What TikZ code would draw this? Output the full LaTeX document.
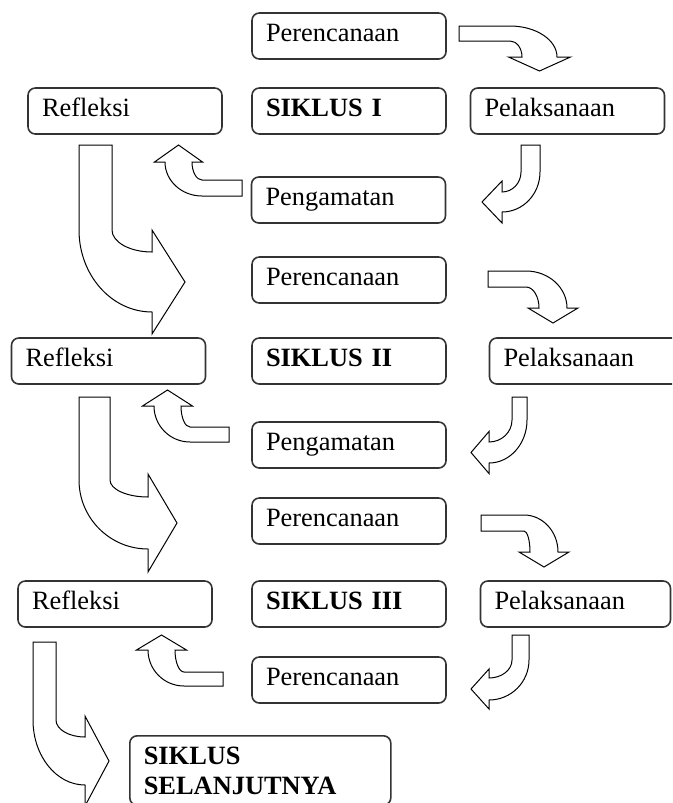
\documentclass[tikz,border=0pt]{standalone}
\usepackage{fontspec}
\setmainfont{Liberation Serif}
\newcommand{\hbend}[9]{%
  \draw[blockarrow] (#1,#2) -- (#4,#2)
    .. controls ({#4+0.552*(#6-#4)},#2) and (#6,{#5+0.552*(#2-#5)}) .. (#6,#5)
    -- ({(#6+#7)/2+(#8)},#5) -- ({(#6+#7)/2},#9) -- ({(#6+#7)/2-(#8)},#5) -- (#7,#5)
    .. controls (#7,{#5+0.552*(#3-#5)}) and ({#4+0.552*(#7-#4)},#3) .. (#4,#3)
    -- (#1,#3) -- cycle;}
\newcommand{\vbend}[9]{%
  \draw[blockarrow] (#1,#3) -- (#2,#3) -- (#2,#5)
    .. controls (#2,{#5+0.552*(#6-#5)}) and ({#4+0.552*(#2-#4)},#6) .. (#4,#6)
    -- (#4,{(#6+#7)/2-(#8)}) -- (#9,{(#6+#7)/2}) -- (#4,{(#6+#7)/2+(#8)}) -- (#4,#7)
    .. controls ({#4+0.552*(#1-#4)},#7) and (#1,{#5+0.552*(#7-#5)}) .. (#1,#5) -- cycle;}
\begin{document}
\begin{tikzpicture}[x=0.75pt,y=-0.75pt,
  box/.style={draw=black!80, line width=1.2pt, rounded corners=5.5pt,
    minimum width=145.5pt, minimum height=34.5pt, inner xsep=10.5pt, inner ysep=0pt,
    text width=124.5pt, align=left, text height=11.5pt, text depth=4pt,
    font=\fontsize{19.8}{22.5}\selectfont},
  blockarrow/.style={draw=black, line width=0.75pt, fill=white, line join=miter}]
\useasboundingbox (0,0) rectangle (672,803);
\fill[white] (0,0) rectangle (672,803);
\clip (0,0) rectangle (672,803);

% cycle I
\node[box] (plan1) at (349,36) {Perencanaan};
\node[box] (refl1) at (125,111) {Refleksi};
\node[box] (cyc1) at (349,111) {\textbf{SIKLUS I}};
\node[box] (act1) at (567.5,111) {Pelaksanaan};
\node[box] (obs1) at (348.5,200) {Pengamatan};
% cycle II
\node[box] (plan2) at (349,280) {Perencanaan};
\node[box] (refl2) at (108.5,361) {Refleksi};
\node[box] (cyc2) at (349,361) {\textbf{SIKLUS II}};
\node[box] (act2) at (586.5,361) {Pelaksanaan};
\node[box] (obs2) at (349,445) {Pengamatan};
% cycle III
\node[box] (plan3) at (349,521) {Perencanaan};
\node[box] (refl3) at (115,604) {Refleksi};
\node[box] (cyc3) at (349,604) {\textbf{SIKLUS III}};
\node[box, minimum width=142.5pt, text width=121.5pt] (act3) at (575.5,604) {Pelaksanaan};
\node[box] (plan4) at (349,680) {Perencanaan};
\node[box, anchor=north west, minimum width=195.75pt, text width=174.75pt,
  minimum height=52pt, text height={}, text depth={}] (next) at (129,735)
  {\textbf{SIKLUS}\\\textbf{SELANJUTNYA}};

% planning -> acting
\hbend{459}{26}{41}{510}{57}{557}{522}{31}{71}
\hbend{488}{271}{287}{526}{308}{567}{539}{25}{323}
\hbend{481}{515}{531}{524}{552}{558}{530}{25}{567}
% acting -> observing
\vbend{521}{540}{145}{502}{172}{212}{192}{-21}{482}
\vbend{512}{527}{397}{489}{420}{463}{442}{-21}{471}
\vbend{512}{529}{635}{489}{660}{700}{678}{-20}{471}
% observing -> reflecting
\hbend{242}{180}{196}{202}{162}{192}{165}{24}{145}
\hbend{229}{427}{442}{190}{406}{181}{154}{25}{390}
\hbend{223}{672}{686}{184}{650}{175}{148}{25}{635}
% reflecting -> next cycle
\vbend{79}{112}{145}{152}{230}{252}{312}{52}{185}
\vbend{79}{110}{397}{148}{480}{497}{549}{49}{177}
\vbend{33}{56}{642}{85}{720}{737}{785}{45}{109}
\end{tikzpicture}
\end{document}
